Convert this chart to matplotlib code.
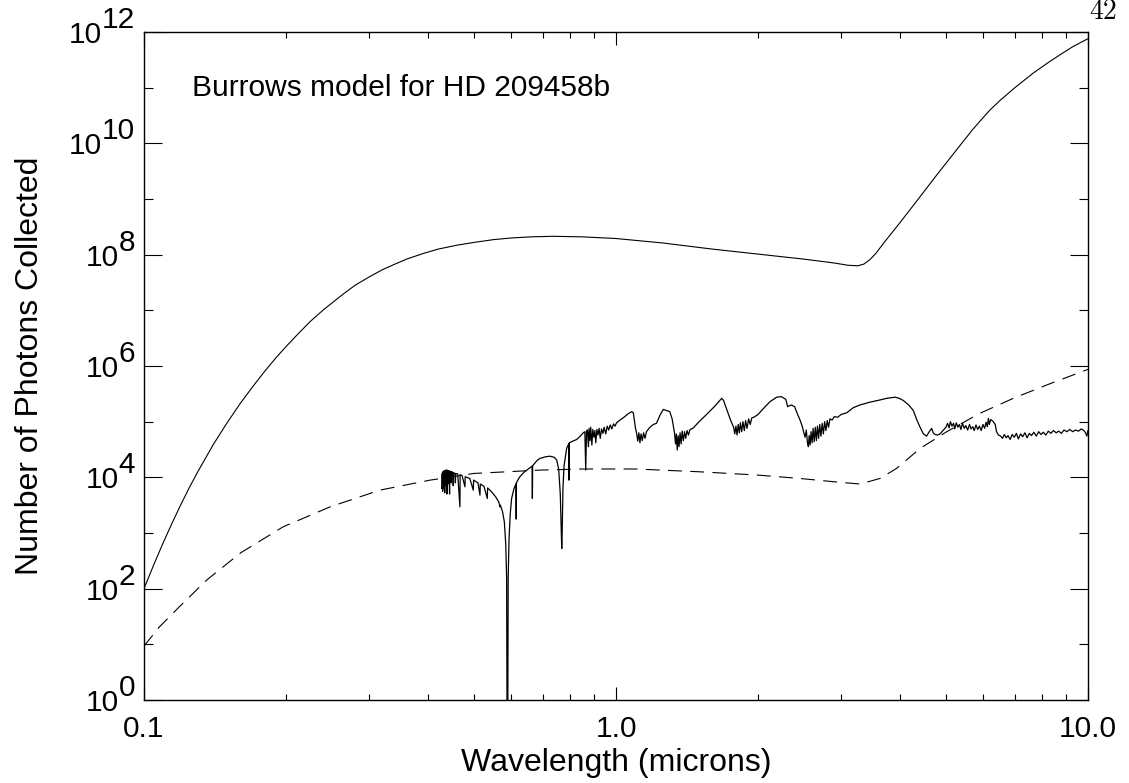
import numpy as np
import matplotlib
matplotlib.use("Agg")
import matplotlib.pyplot as plt
from matplotlib.ticker import FixedLocator, FixedFormatter, NullFormatter
from matplotlib.transforms import offset_copy

plt.rcParams['font.family'] = ['Liberation Sans', 'DejaVu Sans']
plt.rcParams['lines.scale_dashes'] = False

# ---------------- data (wavelength in microns, log10 of photon counts) ----------------
# stellar model (solid smooth curve)
star_wl = [0.100, 0.105, 0.110, 0.115, 0.120, 0.125, 0.130, 0.140, 0.150, 0.160, 0.170, 0.180,
           0.190, 0.200, 0.210, 0.225, 0.240, 0.250, 0.265, 0.280, 0.300, 0.320, 0.340, 0.360,
           0.390, 0.420, 0.460, 0.500, 0.550, 0.600, 0.660, 0.735, 0.850, 1.000, 1.256, 1.6,
           2.0, 2.5, 2.9, 3.1, 3.25, 3.35, 3.45, 3.55, 3.7, 4.0, 4.37, 4.8, 5.4, 5.7, 5.95,
           6.2, 6.51, 7.0, 7.65, 8.2, 8.72, 9.3, 10.0]
star_logN = [2.00, 2.44, 2.84, 3.20, 3.53, 3.83, 4.10, 4.58, 4.98, 5.33, 5.63, 5.90,
             6.14, 6.35, 6.54, 6.80, 7.01, 7.13, 7.30, 7.45, 7.60, 7.73, 7.83, 7.92,
             8.02, 8.10, 8.17, 8.22, 8.27, 8.30, 8.32, 8.33, 8.32, 8.29, 8.21, 8.10,
             8.01, 7.92, 7.85, 7.81, 7.80, 7.83, 7.91, 8.02, 8.22, 8.58, 9.00, 9.45, 10.00, 10.25, 10.43,
             10.60, 10.77, 11.00, 11.26, 11.44, 11.59, 11.74, 11.88]

# dashed curve
dash_wl = [0.10, 0.108, 0.119, 0.136, 0.16, 0.197, 0.248, 0.316, 0.404, 0.50, 0.69, 0.85,
           1.1, 1.5, 2.0, 2.45, 2.9, 3.29, 3.625, 3.93, 4.41, 5.02, 5.90, 6.95, 8.18, 10.0]
dash_logN = [0.97, 1.32, 1.68, 2.16, 2.64, 3.11, 3.47, 3.77, 3.95, 4.07, 4.13, 4.15,
             4.15, 4.10, 4.04, 3.98, 3.92, 3.88, 3.98, 4.16, 4.52, 4.82, 5.15, 5.42, 5.66, 5.94]

# planet spectrum (wavelength, log10 N)
planet_points = [
    (0.4273, 3.80), (0.4278, 4.04), (0.4288, 4.08), (0.4293, 3.75), (0.4298, 4.10), (0.4310, 3.80),
    (0.4316, 4.11), (0.4330, 4.12), (0.4336, 3.72), (0.4342, 4.12), (0.4355, 3.85), (0.4361, 4.13),
    (0.4375, 4.13), (0.4383, 3.70), (0.4390, 4.13), (0.4405, 3.88), (0.4411, 4.12), (0.4430, 4.12),
    (0.4440, 3.70), (0.4447, 4.11), (0.4470, 4.10), (0.4478, 3.90), (0.4484, 4.10), (0.4510, 4.09),
    (0.4520, 3.85), (0.4527, 4.08), (0.4560, 4.07), (0.4568, 3.90), (0.4575, 4.07), (0.4620, 4.06),
    (0.4670, 3.47), (0.4675, 4.05), (0.4720, 4.03), (0.4786, 3.83), (0.4792, 4.01), (0.4900, 3.98),
    (0.4985, 3.77), (0.4992, 3.95), (0.5100, 3.90), (0.5150, 3.68), (0.5158, 3.88), (0.5250, 3.84),
    (0.5338, 3.62), (0.5345, 3.81), (0.5450, 3.74), (0.5560, 3.65), (0.5650, 3.55), (0.5677, 3.47),
    (0.5690, 3.50), (0.5750, 3.38), (0.5800, 3.20), (0.5840, 2.80), (0.5865, 2.20), (0.5880, -1.0),
    (0.5895, -1.0), (0.5910, 2.20), (0.5935, 2.90), (0.5970, 3.35), (0.6010, 3.62), (0.6080, 3.80),
    (0.6140, 3.88), (0.6145, 3.25), (0.6150, 3.90), (0.6240, 4.00), (0.6400, 4.10), (0.6640, 4.20),
    (0.6650, 3.62), (0.6660, 4.21), (0.6800, 4.30), (0.6900, 4.34), (0.7100, 4.37), (0.7247, 4.38),
    (0.7400, 4.36), (0.7489, 4.31), (0.7560, 4.15), (0.7620, 3.70), (0.7660, 3.00), (0.7674, 2.72),
    (0.7690, 3.00), (0.7720, 3.80), (0.7760, 4.20), (0.7860, 4.52), (0.7940, 4.60), (0.7949, 3.95),
    (0.7960, 4.62), (0.8100, 4.65), (0.8254, 4.68), (0.8400, 4.74), (0.8524, 4.80), (0.8590, 4.82),
    (0.8627, 4.13), (0.8660, 4.83), (0.870, 4.85), (0.874, 4.55), (0.877, 4.88), (0.881, 4.66),
    (0.884, 4.90), (0.889, 4.58), (0.893, 4.86), (0.898, 4.72), (0.902, 4.84), (0.906, 4.62),
    (0.911, 4.86), (0.916, 4.76), (0.921, 4.88), (0.926, 4.70), (0.932, 4.87), (0.938, 4.79),
    (0.944, 4.90), (0.951, 4.78), (0.958, 4.92), (0.965, 4.85), (0.972, 4.94), (0.980, 4.87),
    (0.988, 4.96), (0.995, 4.92), (1.003, 4.98), (1.02, 5.03),
    (1.04, 5.08), (1.06, 5.14), (1.080, 5.18), (1.088, 5.16), (1.095, 5.00), (1.100, 4.88),
    (1.106, 4.79), (1.112, 4.65), (1.118, 4.80), (1.124, 4.62), (1.130, 4.78), (1.137, 4.66),
    (1.144, 4.80), (1.152, 4.70), (1.160, 4.82), (1.18, 4.90), (1.20, 4.95), (1.218, 4.97),
    (1.24, 5.12), (1.259, 5.22), (1.28, 5.20), (1.30, 5.18), (1.315, 5.05), (1.330, 4.80),
    (1.337, 4.60), (1.342, 4.78), (1.348, 4.49), (1.354, 4.75), (1.360, 4.55), (1.367, 4.80),
    (1.374, 4.60), (1.381, 4.83), (1.389, 4.66), (1.397, 4.82), (1.405, 4.70), (1.414, 4.84),
    (1.424, 4.76), (1.435, 4.86), (1.455, 4.88), (1.50, 5.00), (1.56, 5.14), (1.62, 5.28),
    (1.675, 5.42), (1.690, 5.38), (1.72, 5.20), (1.75, 5.02), (1.775, 4.90), (1.785, 4.78),
    (1.795, 4.92), (1.805, 4.76), (1.815, 4.95), (1.825, 4.80), (1.835, 4.98), (1.846, 4.82),
    (1.858, 5.00), (1.870, 4.84), (1.882, 5.02), (1.895, 4.88), (1.910, 5.05), (1.925, 4.95),
    (1.94, 5.07), (1.96, 5.08), (2.00, 5.13), (2.06, 5.25), (2.12, 5.36), (2.19, 5.44),
    (2.24, 5.45), (2.29, 5.40), (2.31, 5.27), (2.35, 5.30), (2.39, 5.27), (2.42, 5.15),
    (2.454, 5.03), (2.48, 4.92), (2.50, 4.80), (2.515, 4.72), (2.530, 4.85), (2.545, 4.62),
    (2.556, 4.55), (2.566, 4.75), (2.578, 4.58), (2.590, 4.82), (2.603, 4.62), (2.616, 4.88),
    (2.630, 4.64), (2.644, 4.90), (2.658, 4.66), (2.672, 4.92), (2.687, 4.70), (2.702, 4.95),
    (2.718, 4.74), (2.734, 4.97), (2.750, 4.78), (2.767, 5.00), (2.784, 4.84), (2.802, 5.02),
    (2.820, 4.90), (2.84, 5.05), (2.87, 5.03), (2.90, 5.09), (2.95, 5.08), (3.00, 5.13),
    (3.083, 5.16), (3.18, 5.25), (3.287, 5.30), (3.45, 5.35), (3.625, 5.39), (3.75, 5.42),
    (3.90, 5.44), (3.98, 5.42), (4.062, 5.38), (4.17, 5.30), (4.265, 5.20), (4.33, 5.05),
    (4.408, 4.90), (4.48, 4.78), (4.55, 4.74), (4.61, 4.82), (4.665, 4.88), (4.70, 4.80),
    (4.741, 4.77), (4.80, 4.76), (4.858, 4.78), (4.93, 4.84), (5.00, 4.90), (5.04, 4.97),
    (5.08, 4.89), (5.11, 5.00), (5.15, 4.92), (5.19, 4.97), (5.22, 4.87), (5.26, 4.98),
    (5.30, 4.90), (5.34, 4.95), (5.38, 4.86), (5.42, 4.97), (5.47, 4.88), (5.51, 4.93),
    (5.56, 4.85), (5.61, 4.95), (5.65, 4.87), (5.70, 4.91), (5.74, 4.84), (5.79, 4.94),
    (5.84, 4.86), (5.89, 4.92), (5.94, 4.84), (5.99, 4.95), (6.04, 4.88), (6.08, 4.99),
    (6.12, 4.91), (6.15, 5.06), (6.18, 4.95), (6.22, 5.04), (6.30, 5.00), (6.36, 4.95),
    (6.40, 4.82), (6.46, 4.76),
    (6.53, 4.74), (6.59, 4.70), (6.65, 4.77), (6.71, 4.71), (6.77, 4.75), (6.84, 4.68),
    (6.91, 4.77), (6.98, 4.72), (7.05, 4.79), (7.12, 4.69), (7.20, 4.78), (7.27, 4.73),
    (7.35, 4.80), (7.43, 4.71), (7.51, 4.79), (7.59, 4.75), (7.68, 4.81), (7.77, 4.74),
    (7.86, 4.82), (7.95, 4.77), (8.04, 4.81), (8.14, 4.76), (8.24, 4.83), (8.34, 4.79),
    (8.45, 4.84), (8.56, 4.80), (8.67, 4.83), (8.78, 4.79), (8.90, 4.85), (9.02, 4.82),
    (9.15, 4.86), (9.28, 4.82), (9.41, 4.85), (9.55, 4.83), (9.68, 4.87), (9.80, 4.84),
    (9.88, 4.80), (9.94, 4.74), (10.0, 4.84),
]
planet_wl = [p[0] for p in planet_points]
planet_logN = [p[1] for p in planet_points]

x_ticks = [0.1, 1.0, 10.0]
x_ticklabels = ['0.1', '1.0', '10.0']
y_label_exponents = [0, 2, 4, 6, 8, 10, 12]
y_minor_exponents = [1, 3, 5, 7, 9, 11]

# ---------------- figure ----------------
W, H = 1129, 783
fig = plt.figure(figsize=(W / 100, H / 100), dpi=100)
ax = fig.add_axes([144 / W, 83 / H, 944 / W, 668 / H])
ax.set_xscale('log')
ax.set_yscale('log')

ax.plot(star_wl, 10 ** np.array(star_logN), color='black', lw=0.8)
ax.plot(dash_wl, 10 ** np.array(dash_logN), color='black', lw=0.8, linestyle=(0, (10, 6)))
ax.plot(planet_wl, 10 ** np.array(planet_logN), color='black', lw=0.9)

ax.set_xlim(0.1, 10.0)
ax.set_ylim(1.0, 1e12)

minor_x = [v * d for d in (0.1, 1.0) for v in range(2, 10)]
ax.xaxis.set_major_locator(FixedLocator(x_ticks))
ax.xaxis.set_major_formatter(FixedFormatter(x_ticklabels))
ax.xaxis.set_minor_locator(FixedLocator(minor_x))
ax.xaxis.set_minor_formatter(NullFormatter())
ax.yaxis.set_major_locator(FixedLocator([10.0 ** e for e in y_label_exponents]))
ax.yaxis.set_major_formatter(NullFormatter())
ax.yaxis.set_minor_locator(FixedLocator([10.0 ** e for e in y_minor_exponents]))
ax.yaxis.set_minor_formatter(NullFormatter())

fs = 21.5
ax.tick_params(which='both', direction='in', top=True, right=True, width=0.8, color='black')
ax.tick_params(axis='x', which='major', length=9.7, labelsize=fs, pad=10.5)
ax.tick_params(axis='x', which='minor', length=4.3)
ax.tick_params(axis='y', which='major', length=13.3)
ax.tick_params(axis='y', which='minor', length=6.5)
for s in ax.spines.values():
    s.set_linewidth(1.0)
    s.set_color('black')

# y tick labels "10" with full-size raised exponent
fs_px = fs * 100 / 72
dw = 0.556 * fs_px
ytrans = ax.get_yaxis_transform()
for e in y_label_exponents:
    es = str(e)
    nd = len(es)
    tb = offset_copy(ytrans, fig=fig, x=-9 - nd * dw, y=-11, units='dots')
    te = offset_copy(ytrans, fig=fig, x=-9, y=4, units='dots')
    ax.text(0, 10.0 ** e, '10', transform=tb, ha='right', va='baseline', fontsize=fs, clip_on=False)
    ax.text(0, 10.0 ** e, es, transform=te, ha='right', va='baseline', fontsize=fs, clip_on=False)

ax.set_xlabel('Wavelength (microns)', fontsize=23)
ax.xaxis.set_label_coords(0.5, -0.0714)
ax.set_ylabel('Number of Photons Collected', fontsize=23)
ax.yaxis.set_label_coords(-0.105, 0.5)

fig.text(191.7 / W, 1 - 96 / H, 'Burrows model for HD 209458b', fontsize=fs, ha='left', va='baseline')
fig.text(1117 / W, 1 - 19 / H, '42', fontsize=20, family=['cmr10', 'DejaVu Serif'], ha='right', va='baseline')

fig.savefig('out.png', dpi=100)
